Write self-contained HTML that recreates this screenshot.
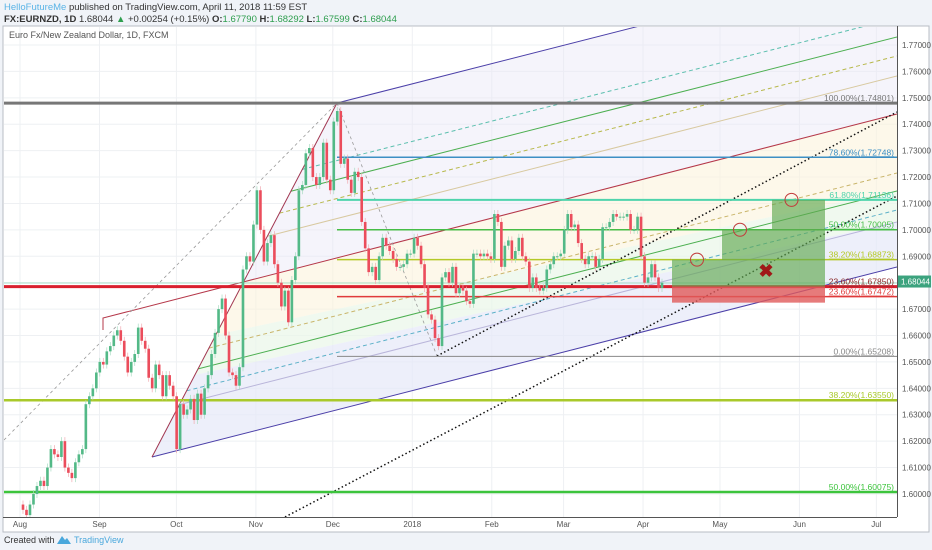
<!DOCTYPE html>
<html><head><meta charset="utf-8">
<style>
html,body{margin:0;padding:0;background:#f0f3f8;width:932px;height:550px;overflow:hidden}
svg{display:block;font-family:"Liberation Sans",sans-serif}
</style></head>
<body>
<svg id="chart" width="932" height="550" viewBox="0 0 932 550">
  <rect x="0" y="0" width="932" height="550" fill="#f0f3f8"/>
  <g>
    <text x="4" y="10" font-size="9.5" fill="#333"><tspan fill="#5ab4e6">HelloFutureMe</tspan> published on TradingView.com, April 11, 2018 11:59 EST</text>
    <text x="4" y="22" font-size="9.5" fill="#333"><tspan font-weight="bold">FX:EURNZD, 1D</tspan> 1.68044 <tspan fill="#2e9e4e">▲</tspan> +0.00254 (+0.15%) <tspan font-weight="bold">O:</tspan><tspan fill="#2e9e4e">1.67790</tspan> <tspan font-weight="bold">H:</tspan><tspan fill="#2e9e4e">1.68292</tspan> <tspan font-weight="bold">L:</tspan><tspan fill="#2e9e4e">1.67599</tspan> <tspan font-weight="bold">C:</tspan><tspan fill="#2e9e4e">1.68044</tspan></text>
  </g>
  <rect x="3" y="26" width="926" height="506" fill="#fff" stroke="#b8bcc4" stroke-width="1"/>
  <defs><clipPath id="plotclip"><rect x="4" y="27" width="893" height="490"/></clipPath></defs>
  <g id="grid"></g>
  <g id="drawings" clip-path="url(#plotclip)"></g>
  <g id="candles" clip-path="url(#plotclip)"></g>
  <g id="overlay" clip-path="url(#plotclip)"></g>
  <line x1="897.5" y1="26" x2="897.5" y2="517" stroke="#555" stroke-width="1"/>
  <line x1="3" y1="517.5" x2="897" y2="517.5" stroke="#555" stroke-width="1"/>
  <g id="yaxis"></g>
  <g id="xaxis"></g>
  <text x="9" y="38" font-size="9" fill="#555">Euro Fx/New Zealand Dollar, 1D, FXCM</text>
  <g>
    <text x="4" y="543" font-size="9" fill="#333">Created with</text>
    <path d="M57 544 l5 -8 l3 4 l2 -2 l4 6 z" fill="#4aa8dc"/>
    <text x="74" y="543" font-size="9" fill="#4aa8dc">TradingView</text>
  </g>
</svg>
<script>
const NS="http://www.w3.org/2000/svg";
const closes=[1.594,1.592,1.596,1.600,1.603,1.605,1.603,1.610,1.617,1.615,1.614,1.620,1.610,1.608,1.606,1.612,1.615,1.617,1.634,1.637,1.640,1.646,1.650,1.649,1.654,1.656,1.660,1.662,1.658,1.652,1.646,1.650,1.653,1.663,1.658,1.655,1.644,1.640,1.649,1.645,1.637,1.645,1.641,1.637,1.617,1.634,1.630,1.632,1.636,1.628,1.638,1.630,1.640,1.645,1.653,1.661,1.670,1.674,1.660,1.646,1.645,1.641,1.648,1.685,1.690,1.688,1.702,1.715,1.700,1.688,1.695,1.698,1.687,1.680,1.671,1.677,1.665,1.681,1.690,1.715,1.717,1.729,1.731,1.720,1.717,1.720,1.733,1.719,1.715,1.741,1.745,
1.725,1.727,1.719,1.714,1.722,1.720,1.703,1.693,1.684,1.686,1.681,1.690,1.697,1.694,1.692,1.689,1.686,1.686,1.687,1.691,1.691,1.697,1.694,1.687,1.678,1.668,1.666,1.659,1.656,1.682,1.684,1.680,1.686,1.676,1.678,1.677,1.673,1.672,1.691,1.691,1.690,1.691,1.690,1.689,1.706,1.703,1.686,1.694,1.696,1.689,1.692,1.697,1.690,1.688,1.678,1.682,1.678,1.677,1.678,1.685,1.687,1.690,1.690,1.691,1.700,1.706,1.701,1.702,1.695,1.689,1.687,1.690,1.690,1.686,1.689,1.701,1.701,1.703,1.706,1.705,1.705,1.705,1.706,1.700,1.700,1.705,1.690,1.680,1.682,1.687,1.682,1.678,1.680];
const firstOpen=1.596;
const priceTicks=[1.77,1.76,1.75,1.74,1.73,1.72,1.71,1.70,1.69,1.68,1.67,1.66,1.65,1.64,1.63,1.62,1.61,1.60];
const monthLabels=["Aug","Sep","Oct","Nov","Dec","2018","Feb","Mar","Apr","May","Jun","Jul"];
const monthDays=[0,31,61,92,122,153,184,212,243,273,304,334];
const fibPrices=[1.74801,1.72748,1.71136,1.70005,1.68873,1.67850,1.67472,1.65208,1.63550,1.60075];
const fibLabels=["100.00%(1.74801)","78.60%(1.72748)","61.80%(1.71136)","50.00%(1.70005)","38.20%(1.68873)","23.60%(1.67850)","23.60%(1.67472)","0.00%(1.65208)","38.20%(1.63550)","50.00%(1.60075)"];
const lastPrice=1.68044;

function y(p){return 45+(1.77-p)*2641;}
function xd(d){return 20+d*2.564;}
const N=closes.length;
function xi(i){return 23+i*(662-23)/(N-1);}
function mk(tag,attrs,parent){const e=document.createElementNS(NS,tag);for(const k in attrs)e.setAttribute(k,attrs[k]);parent.appendChild(e);return e;}

const grid=document.getElementById('grid'),yax=document.getElementById('yaxis'),xax=document.getElementById('xaxis');
priceTicks.forEach(p=>{
  const l=mk('line',{x1:4,x2:897,y1:y(p),y2:y(p),stroke:'#eef0f3','stroke-width':1},grid);
  
  
  const t=mk('text',{x:902,y:y(p)+3,'font-size':8,fill:'#555'},yax);
  t.textContent=p.toFixed(5);
  
  
});
monthLabels.forEach((m,i)=>{
  const X=xd(monthDays[i]);
  const l=mk('line',{x1:X,x2:X,y1:27,y2:517,stroke:'#eef0f3','stroke-width':1},grid);
  
  
  const t=mk('text',{x:X,y:527,'font-size':8,fill:'#555','text-anchor':'middle'},xax);
  t.textContent=m;
  
  
});

const dr=document.getElementById('drawings');
const S=0.2545;
function ab(yR){const x=(747.85-(yR+S*897))/(1.9135-S);return [x,yR+(897-x)*S];}
function fan(yR,color,dash,w,name){const s=ab(yR);const l=mk('line',{x1:s[0],y1:s[1],x2:897,y2:yR,stroke:color,'stroke-width':w||1},dr);if(dash)l.setAttribute('stroke-dasharray',dash);
  
  }
const f1=mk('polygon',{points:"337,103 640,26 897,26 897,114 243,282",fill:'#e9e6f7',opacity:0.45},dr);


const f2=mk('polygon',{points:"243,282 897,114 897,190 215,335",fill:'#fbf4dc',opacity:0.6},dr);


const f3=mk('polygon',{points:"215,335 897,190 897,222 195,375",fill:'#eaf6e8',opacity:0.7},dr);


const f4=mk('polygon',{points:"195,375 897,222 897,267 152,457",fill:'#e6e8f8',opacity:0.7},dr);



fan(18,'#5bbfae','4,3',1,'fan-line-teal-dashed-upper');
fan(37,'#4caf50',null,1,'fan-line-green-upper');
fan(56,'#b7b84a','4,3',1,'fan-line-yellow-dashed');
fan(76,'#d8c9a0',null,1,'fan-line-tan');
fan(173,'#c9b56a','4,3',1,'fan-line-tan-dashed');
fan(191,'#4caf50',null,1,'fan-line-green-lower');
fan(210,'#5bb0c8','4,3',1,'fan-line-teal-dashed-lower');
fan(222,'#b9b5da',null,1,'fan-line-lilac');
let e;
e=mk('line',{x1:337,y1:103,x2:897,y2:103-560*S,stroke:'#4b3fa8','stroke-width':1},dr);


e=mk('line',{x1:152,y1:457,x2:897,y2:267,stroke:'#4b3fa8','stroke-width':1},dr);


e=mk('polyline',{points:"103,330 103,318 897,114",fill:'none',stroke:'#b5384a','stroke-width':1},dr);


e=mk('line',{x1:152,y1:457,x2:337,y2:103,stroke:'#a13650','stroke-width':1},dr);


e=mk('line',{x1:4,y1:440,x2:337,y2:103,stroke:'#999','stroke-width':0.8,'stroke-dasharray':'3,3'},dr);


e=mk('line',{x1:337,y1:103,x2:437,y2:356,stroke:'#999','stroke-width':0.8,'stroke-dasharray':'3,3'},dr);


e=mk('line',{x1:437,y1:356,x2:897,y2:112,stroke:'#111','stroke-width':1.5,'stroke-dasharray':'1.5,2.5'},dr);


e=mk('line',{x1:285,y1:517,x2:897,y2:196,stroke:'#111','stroke-width':1.5,'stroke-dasharray':'1.5,2.5'},dr);



const fibStyle=[['#777',3,4],['#3d8fc4',1.5,337],['#4fd4ac',2,337],['#46bd46',1.5,337],['#b4c927',1.5,337],['#d9202e',3,4],['#e03a3a',1.5,337],['#888',1,337],['#a9c92a',2.5,4],['#3cc43c',2.5,4]];
const labelColors=['#777','#3d8fc4','#4fd4ac','#46bd46','#b4c927','#8b2a2a','#e03a3a','#888','#a9c92a','#3cc43c'];
fibPrices.forEach((p,i)=>{
  const st=fibStyle[i];
  const l=mk('line',{x1:st[2],x2:897,y1:y(p),y2:y(p),stroke:st[0],'stroke-width':st[1]},dr);
  
  
  const t=mk('text',{x:894,y:y(p)-2,'font-size':8.5,fill:labelColors[i],'text-anchor':'end','text-decoration':'underline'},document.getElementById('overlay'));
  t.textContent=fibLabels[i];
  
  
});
e=mk('line',{x1:4,x2:897,y1:283,y2:283,stroke:'#8fd6b8','stroke-width':0.8},dr);



const cg=document.getElementById('candles');
const bw=Math.max(2,(662-23)/(N-1)*0.75);
closes.forEach((c,i)=>{
  const o=i===0?firstOpen:closes[i-1];
  const up=c>=o;const col=up?'#53b987':'#eb4d5c';
  const X=xi(i);const top=Math.min(y(o),y(c)),bot=Math.max(y(o),y(c));
  const w=mk('line',{x1:X,x2:X,y1:top-4,y2:bot+4,stroke:up?'#a8dcc2':'#f2a9b0','stroke-width':0.7},cg);
  
  
  const r=mk('rect',{x:X-bw/2,y:top,width:bw,height:Math.max(1,bot-top),fill:col},cg);
  
  
});

const ov=document.getElementById('overlay');
const boxes=[[672,722,fibPrices[4]],[722,772,fibPrices[3]],[772,825,fibPrices[2]]];
boxes.forEach(b=>{
  const r=mk('rect',{x:b[0],y:y(b[2]),width:b[1]-b[0],height:y(fibPrices[5])-y(b[2]),fill:'#5fa84f',opacity:0.65},ov);
  
  
  const c=mk('circle',{cx:(b[0]+b[1])/2+(b===boxes[0]?0:-7),cy:y(b[2]),r:6.5,fill:'none',stroke:'#c23b3b','stroke-width':1},ov);
  
  
});
e=mk('rect',{x:672,y:y(fibPrices[5]),width:153,height:16,fill:'#e05a5a',opacity:0.8},ov);


e=mk('text',{x:766,y:277,'font-size':18,'font-weight':'bold',fill:'#a01818','text-anchor':'middle'},ov);
e.textContent='✖';



e=mk('rect',{x:898,y:y(lastPrice)-6,width:33,height:12,fill:'#3ca37e'},yax);


e=mk('text',{x:901,y:y(lastPrice)+3,'font-size':8,fill:'#fff'},yax);
e.textContent=lastPrice.toFixed(5);


</script>
</body></html>
